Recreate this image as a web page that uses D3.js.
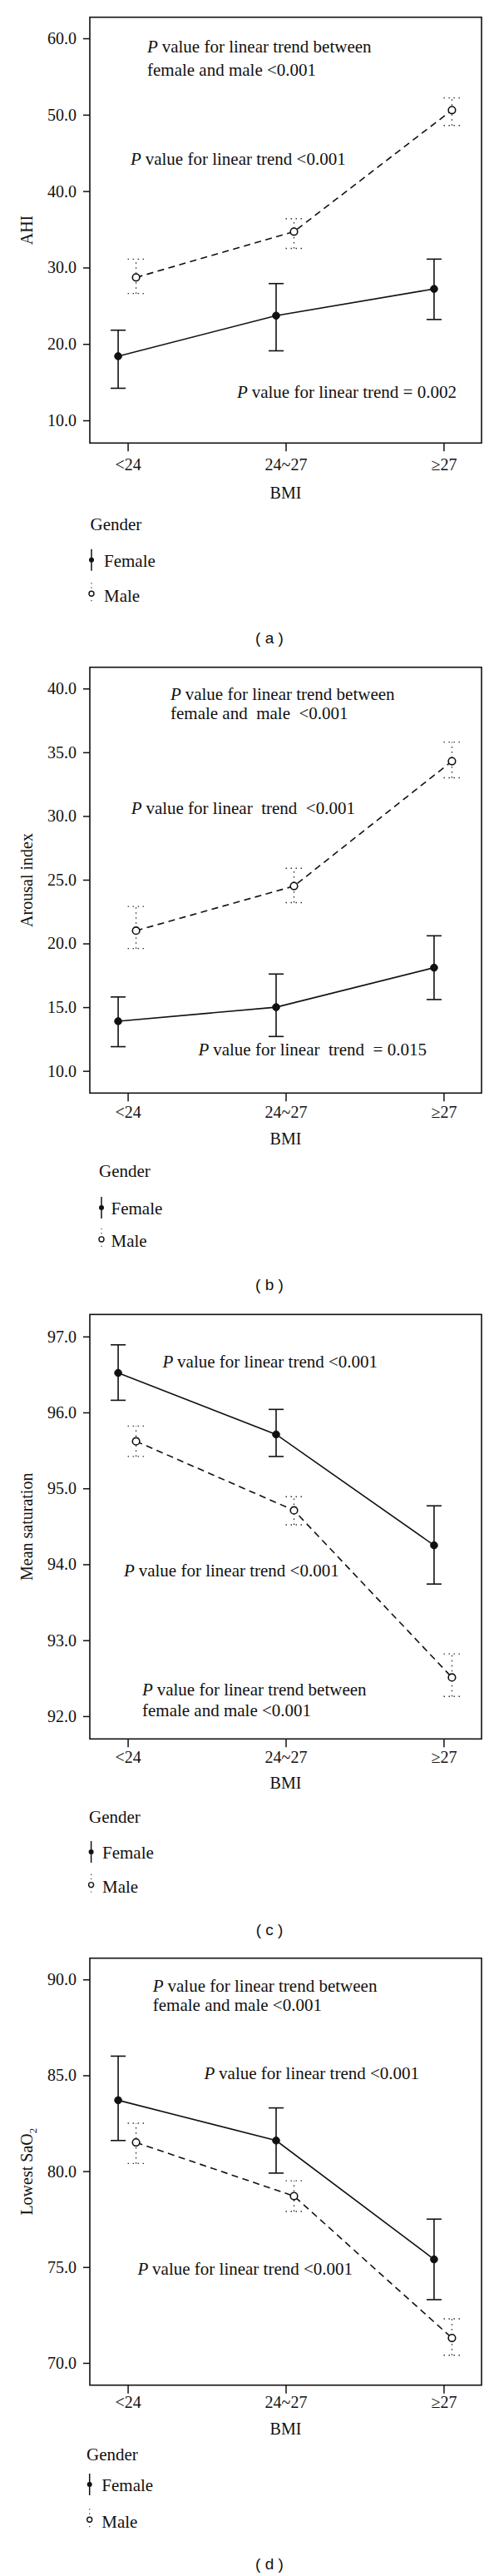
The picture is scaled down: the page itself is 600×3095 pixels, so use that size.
<!DOCTYPE html>
<html>
<head>
<meta charset="utf-8">
<script src="https://cdn.jsdelivr.net/npm/d3@7"></script>
<style>
  body { margin: 0; background: #fff; }
  svg text { font-family: "Liberation Serif", "Times New Roman", serif; fill: #111; }
</style>
</head>
<body>
<div id="vis"></div>
<script>
const categories = ["<24", "24~27", "≥27"];

// (a) AHI
const ahiTicks = [10, 20, 30, 40, 50, 60];
const ahiFemale = [18.4, 23.7, 27.2];
const ahiFemaleLow = [14.2, 19.1, 23.2];
const ahiFemaleHigh = [21.8, 27.9, 31.1];
const ahiMale = [28.7, 34.7, 50.6];
const ahiMaleLow = [26.6, 32.5, 48.6];
const ahiMaleHigh = [31.1, 36.4, 52.2];

// (b) Arousal index
const arousalTicks = [10, 15, 20, 25, 30, 35, 40];
const arousalFemale = [13.9, 15.0, 18.1];
const arousalFemaleLow = [11.9, 12.7, 15.6];
const arousalFemaleHigh = [15.8, 17.6, 20.6];
const arousalMale = [21.0, 24.5, 34.3];
const arousalMaleLow = [19.6, 23.2, 33.0];
const arousalMaleHigh = [22.9, 25.9, 35.8];

// (c) Mean saturation
const satTicks = [92, 93, 94, 95, 96, 97];
const satFemale = [96.52, 95.71, 94.25];
const satFemaleLow = [96.16, 95.42, 93.74];
const satFemaleHigh = [96.89, 96.04, 94.77];
const satMale = [95.62, 94.71, 92.51];
const satMaleLow = [95.42, 94.52, 92.26];
const satMaleHigh = [95.82, 94.89, 92.82];

// (d) Lowest SaO2
const lowTicks = [70, 75, 80, 85, 90];
const lowFemale = [83.7, 81.6, 75.4];
const lowFemaleLow = [81.6, 79.9, 73.3];
const lowFemaleHigh = [86.0, 83.3, 77.5];
const lowMale = [81.5, 78.7, 71.3];
const lowMaleLow = [80.4, 77.9, 70.4];
const lowMaleHigh = [82.5, 79.5, 72.3];

const panels = [
  {
    title: "AHI", caption: "( a )", ticks: ahiTicks, domain: [7.03, 62.76],
    female: [ahiFemale, ahiFemaleLow, ahiFemaleHigh], male: [ahiMale, ahiMaleLow, ahiMaleHigh],
    notes: [
      { x: 177, y: 62.7, lines: ["value for linear trend between", "female and male <0.001"], gap: 28 },
      { x: 157, y: 198.3, lines: ["value for linear trend <0.001"] },
      { x: 285, y: 478.3, lines: ["value for linear trend = 0.002"] }
    ],
    top: 20.7, bottom: 532.3, tickY: 565, bmiY: 599.3,
    legX: 108.5, markX: 110, legTextX: 125, genderY: 636.7, femaleY: 681, maleY: 722.7, capY: 773
  },
  {
    title: "Arousal index", caption: "( b )", ticks: arousalTicks, domain: [8.26, 41.67],
    female: [arousalFemale, arousalFemaleLow, arousalFemaleHigh], male: [arousalMale, arousalMaleLow, arousalMaleHigh],
    notes: [
      { x: 205, y: 840.5, lines: ["value for linear trend between", "female and  male  <0.001"], gap: 23 },
      { x: 157.7, y: 978.3, lines: ["value for linear  trend  <0.001"] },
      { x: 238.5, y: 1268.3, lines: ["value for linear  trend  = 0.015"] }
    ],
    top: 801.7, bottom: 1313.3, tickY: 1343.3, bmiY: 1375,
    legX: 119, markX: 122, legTextX: 133.5, genderY: 1414.3, femaleY: 1459.3, maleY: 1498.3, capY: 1550
  },
  {
    title: "Mean saturation", caption: "( c )", ticks: satTicks, domain: [91.70, 97.29],
    female: [satFemale, satFemaleLow, satFemaleHigh], male: [satMale, satMaleLow, satMaleHigh],
    notes: [
      { x: 195.4, y: 1643.3, lines: ["value for linear trend <0.001"] },
      { x: 149, y: 1894.3, lines: ["value for linear trend <0.001"] },
      { x: 171, y: 2037.3, lines: ["value for linear trend between", "female and male <0.001"], gap: 24.4 }
    ],
    top: 1579.3, bottom: 2089.3, tickY: 2118.3, bmiY: 2149.3,
    legX: 107, markX: 109.6, legTextX: 123, genderY: 2190, femaleY: 2233.3, maleY: 2274, capY: 2325
  },
  {
    title: "Lowest SaO", sub: "2", caption: "( d )", ticks: lowTicks, domain: [68.84, 91.11],
    female: [lowFemale, lowFemaleLow, lowFemaleHigh], male: [lowMale, lowMaleLow, lowMaleHigh],
    notes: [
      { x: 183.8, y: 2392.7, lines: ["value for linear trend between", "female and male <0.001"], gap: 23.3 },
      { x: 245.4, y: 2498.3, lines: ["value for linear trend <0.001"] },
      { x: 165.4, y: 2733.3, lines: ["value for linear trend <0.001"] }
    ],
    top: 2352.7, bottom: 2865.7, tickY: 2893.3, bmiY: 2925,
    legX: 104, markX: 107.7, legTextX: 122.3, genderY: 2956, femaleY: 2993.3, maleY: 3036.7, capY: 3086.7
  }
];

const width = 600;
const height = 3095;
const left = 108;
const right = 579;

const svg = d3.select("#vis").append("svg")
  .attr("width", width)
  .attr("height", height);

const x = d3.scalePoint().domain(categories).range([left, right]).padding(0.24);

panels.forEach((p) => {
  const g = svg.append("g");
  const y = d3.scaleLinear().domain(p.domain).range([p.bottom, p.top]);

  // frame
  g.append("rect")
    .attr("x", left).attr("y", p.top)
    .attr("width", right - left).attr("height", p.bottom - p.top)
    .attr("fill", "none").attr("stroke", "#111").attr("stroke-width", 1.6);

  // y axis
  const yAxis = g.append("g")
    .attr("transform", `translate(${left},0)`)
    .call(d3.axisLeft(y).tickValues(p.ticks).tickFormat(d3.format(".1f")).tickSize(8).tickPadding(8));
  yAxis.select(".domain").remove();
  yAxis.selectAll("line").attr("stroke", "#111").attr("stroke-width", 1.5);
  yAxis.selectAll("text").attr("font-size", 20).attr("font-family", null).attr("fill", "#111");

  // x axis
  const xAxis = g.append("g")
    .attr("transform", `translate(0,${p.bottom})`)
    .call(d3.axisBottom(x).tickSize(10));
  xAxis.select(".domain").remove();
  xAxis.selectAll("line").attr("stroke", "#111").attr("stroke-width", 1.5);
  xAxis.selectAll("text")
    .attr("font-size", 20).attr("font-family", null).attr("fill", "#111")
    .attr("dy", null).attr("y", p.tickY - p.bottom);

  // axis titles
  g.append("text")
    .attr("x", (left + right) / 2).attr("y", p.bmiY)
    .attr("text-anchor", "middle").attr("font-size", 20)
    .text("BMI");

  const yt = g.append("text")
    .attr("transform", `translate(38.5,${(p.top + p.bottom) / 2}) rotate(-90)`)
    .attr("text-anchor", "middle").attr("font-size", 20)
    .text(p.title);
  if (p.sub) {
    yt.append("tspan").attr("font-size", 13).attr("dy", 5).text(p.sub);
  }

  // series
  const series = [
    { vals: p.female, off: -11.5, cap: 9, solid: true },
    { vals: p.male, off: 10, cap: 10, solid: false }
  ];

  series.forEach((s) => {
    const pts = categories.map((c, i) => ({
      x: x(c) + s.off, y: y(s.vals[0][i]), lo: y(s.vals[1][i]), hi: y(s.vals[2][i])
    }));

    const errDash = s.solid ? null : "1.5,4.5";
    const errStroke = s.solid ? "#111" : "#333";
    const errW = s.solid ? 1.6 : 1.4;

    const eb = g.append("g").selectAll("g").data(pts).enter().append("g");
    eb.append("line")
      .attr("x1", (d) => d.x).attr("x2", (d) => d.x)
      .attr("y1", (d) => d.lo).attr("y2", (d) => d.hi)
      .attr("stroke", errStroke).attr("stroke-width", errW).attr("stroke-dasharray", errDash);
    ["lo", "hi"].forEach((k) => {
      eb.append("line")
        .attr("x1", (d) => d.x - s.cap).attr("x2", (d) => d.x + s.cap)
        .attr("y1", (d) => d[k]).attr("y2", (d) => d[k])
        .attr("stroke", errStroke).attr("stroke-width", errW).attr("stroke-dasharray", errDash);
    });

    g.append("path")
      .datum(pts)
      .attr("fill", "none")
      .attr("stroke", "#111")
      .attr("stroke-width", 1.6)
      .attr("stroke-dasharray", s.solid ? null : "8,5.5")
      .attr("d", d3.line().x((d) => d.x).y((d) => d.y));

    g.append("g").selectAll("circle").data(pts).enter().append("circle")
      .attr("cx", (d) => d.x).attr("cy", (d) => d.y)
      .attr("r", 4.3)
      .attr("fill", s.solid ? "#111" : "#fff")
      .attr("stroke", "#111")
      .attr("stroke-width", s.solid ? 1 : 1.6);
  });

  // annotations
  p.notes.forEach((n) => {
    n.lines.forEach((ln, i) => {
      const t = g.append("text")
        .attr("x", n.x).attr("y", n.y + i * (n.gap || 0))
        .attr("font-size", 21)
        .attr("xml:space", "preserve");
      if (i === 0) {
        t.append("tspan").attr("font-style", "italic").text("P ");
        t.append("tspan").text(ln);
      } else {
        t.text(ln);
      }
    });
  });

  // legend
  g.append("text").attr("x", p.legX).attr("y", p.genderY).attr("font-size", 21).text("Gender");

  const fy = p.femaleY - 8.3;
  g.append("line")
    .attr("x1", p.markX).attr("x2", p.markX).attr("y1", fy - 13).attr("y2", fy + 13)
    .attr("stroke", "#111").attr("stroke-width", 1.5);
  g.append("circle").attr("cx", p.markX).attr("cy", fy).attr("r", 3).attr("fill", "#111");
  g.append("text").attr("x", p.legTextX).attr("y", p.femaleY).attr("font-size", 21).text("Female");

  const my = p.maleY - 9.4;
  g.append("line")
    .attr("x1", p.markX).attr("x2", p.markX).attr("y1", my - 13).attr("y2", my + 13)
    .attr("stroke", "#333").attr("stroke-width", 1.2).attr("stroke-dasharray", "1.2,4");
  g.append("circle").attr("cx", p.markX).attr("cy", my).attr("r", 3)
    .attr("fill", "#fff").attr("stroke", "#111").attr("stroke-width", 1.4);
  g.append("text").attr("x", p.legTextX).attr("y", p.maleY).attr("font-size", 21).text("Male");

  // caption
  g.append("text")
    .attr("x", 324).attr("y", p.capY)
    .attr("text-anchor", "middle")
    .attr("font-size", 19)
    .style("font-family", "'Liberation Sans', Arial, sans-serif")
    .attr("xml:space", "preserve")
    .text(p.caption);
});
</script>
</body>
</html>
